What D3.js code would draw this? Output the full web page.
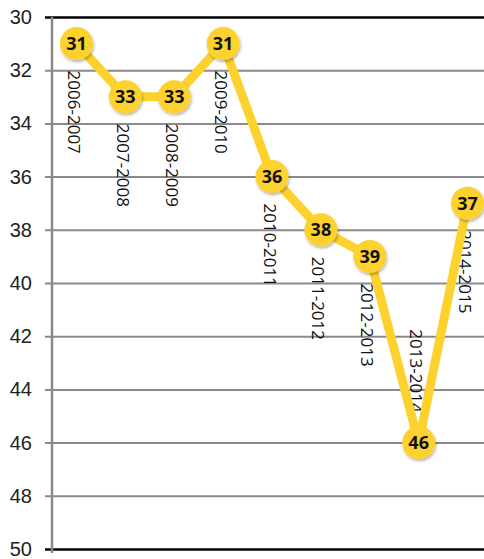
<!DOCTYPE html>
<html>
<head>
<meta charset="utf-8">
<script src="https://cdn.jsdelivr.net/npm/d3@7"></script>
<style>
  html, body { margin: 0; padding: 0; background: #fff; }
  svg { display: block; font-family: "Open Sans", "Noto Sans", sans-serif; }
</style>
</head>
<body>
<svg id="chart" width="484" height="559"></svg>
<script>
// Season rankings (lower number = better, so the axis runs downward)
const seasons = ["2006-2007", "2007-2008", "2008-2009", "2009-2010", "2010-2011",
                 "2011-2012", "2012-2013", "2013-2014", "2014-2015"];
const ranks = [31, 33, 33, 31, 36, 38, 39, 46, 37];
const yTicks = [30, 32, 34, 36, 38, 40, 42, 44, 46, 48, 50];

const svg = d3.select("#chart");
const plotLeft = 52, plotTop = 17, plotBottom = 549, plotRight = 492;

const x = d3.scaleBand().domain(seasons).range([plotLeft, plotRight]);
const y = d3.scaleLinear().domain([30, 50]).range([plotTop, plotBottom]);
const cx = d => x(d) + x.bandwidth() / 2;

const defs = svg.append("defs");
const shadow = defs.append("filter").attr("id", "shadow")
  .attr("x", "-50%").attr("y", "-50%").attr("width", "200%").attr("height", "200%");
shadow.append("feDropShadow").attr("dx", 1).attr("dy", 2).attr("stdDeviation", 1.5)
  .attr("flood-color", "#000").attr("flood-opacity", 0.3);

// Horizontal gridlines
const yAxis = d3.axisLeft(y).tickValues(yTicks).tickSize(-(484 - plotLeft)).tickPadding(20);
const gy = svg.append("g").attr("transform", `translate(${plotLeft},0)`).call(yAxis);
gy.select(".domain").remove();
gy.selectAll(".tick line")
  .attr("x1", -7)
  .attr("stroke", d => (d === 30 || d === 50) ? "#000" : "#8a8a8a")
  .attr("stroke-width", d => (d === 30 || d === 50) ? 2.5 : 2);
gy.selectAll(".tick text")
  .attr("font-size", 20).attr("fill", "#222");

// Vertical axis line
svg.append("line")
  .attr("x1", plotLeft).attr("x2", plotLeft).attr("y1", plotTop).attr("y2", plotBottom + 4)
  .attr("stroke", "#8a8a8a").attr("stroke-width", 2.5);

// Season labels, rotated; they hang below each point unless that would run
// past the bottom of the plot, in which case they sit above it
const labelLen = 90;
svg.append("g").selectAll("text").data(seasons).join("text")
  .each(function (d, i) {
    const py = y(ranks[i]);
    const above = py + 27 + labelLen > plotBottom;
    d3.select(this)
      .attr("transform", `translate(${cx(d) - 2.5},${above ? py - 30 : py + 27}) rotate(90)`)
      .attr("text-anchor", above ? "end" : "start");
  })
  .attr("dy", "0.35em")
  .attr("font-size", 17)
  .attr("fill", "#111")
  .text(d => d);

// Ranking line
const line = d3.line().x((d, i) => cx(seasons[i])).y(d => y(d));
svg.append("path").datum(ranks)
  .attr("d", line)
  .attr("fill", "none")
  .attr("stroke", "#fdd22f")
  .attr("stroke-width", 9)
  .attr("stroke-linejoin", "round");

// Markers with value labels
const pts = svg.append("g").selectAll("g").data(ranks).join("g")
  .attr("transform", (d, i) => `translate(${cx(seasons[i])},${y(d)})`);
pts.append("circle")
  .attr("r", 16.5)
  .attr("fill", "#fdd22f")
  .attr("filter", "url(#shadow)");
pts.append("text")
  .attr("text-anchor", "middle")
  .attr("dy", "0.36em")
  .attr("font-size", 18)
  .attr("font-weight", "bold")
  .attr("fill", "#111")
  .text(d => d);
</script>
</body>
</html>
